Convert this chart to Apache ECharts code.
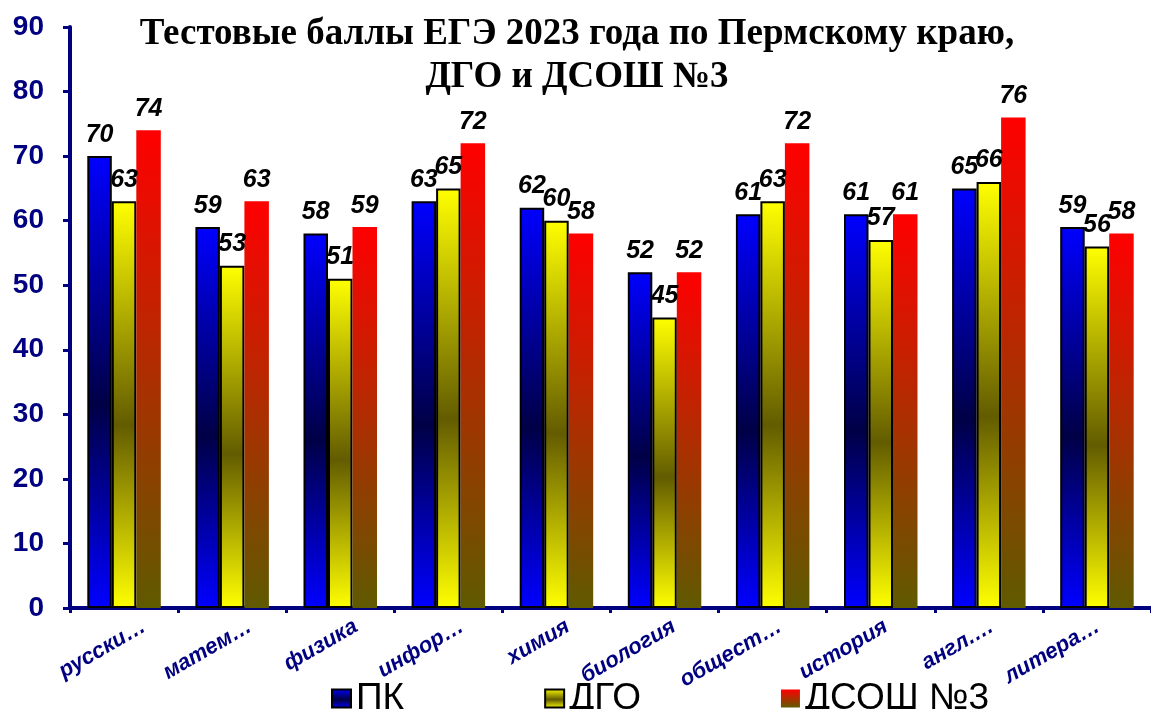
<!DOCTYPE html>
<html>
<head>
<meta charset="utf-8">
<script src="https://cdn.jsdelivr.net/npm/echarts@6/dist/echarts.min.js"></script>
<style>
  html, body { margin: 0; padding: 0; background: #fff; }
  #main { width: 1151px; height: 709px; }
</style>
</head>
<body>
<div id="main"></div>
<script>
// subjects as they are shown under the axis (cut by the chart itself)
var subjects = ['русски…', 'матем…', 'физика', 'инфор…', 'химия', 'биология', 'общест…', 'история', 'англ.…', 'литера…']
var seriesNames = ['ПК', 'ДГО', 'ДСОШ №3']
var pkScores = [70, 59, 58, 63, 62, 52, 61, 61, 65, 59]
var dgoScores = [63, 53, 51, 65, 60, 45, 63, 57, 66, 56]
var dsoshScores = [74, 63, 59, 72, 58, 52, 72, 61, 76, 58]
var yTicks = { min: 0, max: 90, step: 10 }

var navy = '#000080'
var sans = 'Arial, "Liberation Sans", sans-serif'

function grad(stops) {
  return new echarts.graphic.LinearGradient(0, 0, 0, 1, stops)
}

var blueFill = grad([
  { offset: 0, color: '#0000ff' },
  { offset: 0.55, color: '#000046' },
  { offset: 1, color: '#0000ff' }
])
var yellowFill = grad([
  { offset: 0, color: '#ffff00' },
  { offset: 0.55, color: '#635c00' },
  { offset: 1, color: '#ffff00' }
])
var redFill = grad([
  { offset: 0, color: '#ff0000' },
  { offset: 1, color: '#5f5a00' }
])

var valueLabel = {
  show: true,
  position: 'top',
  distance: 9,
  color: '#000',
  fontFamily: sans,
  fontSize: 25,
  fontWeight: 'bold',
  fontStyle: 'italic'
}

function barSeries(name, data, fill, border) {
  return {
    name: name,
    type: 'bar',
    data: data,
    barWidth: 24.5,
    barGap: '0%',
    itemStyle: {
      color: fill,
      borderColor: '#000',
      borderWidth: border ? 2 : 0
    },
    label: valueLabel
  }
}

var chart = echarts.init(document.getElementById('main'))

chart.setOption({
  backgroundColor: '#fff',
  animation: false,
  title: {
    text: 'Тестовые баллы ЕГЭ 2023 года по Пермскому краю,\nДГО и ДСОШ №3',
    left: 572,
    top: 8,
    textAlign: 'center',
    textStyle: {
      fontFamily: '"Times New Roman", "Liberation Serif", serif',
      fontSize: 37,
      fontWeight: 'bold',
      lineHeight: 43,
      color: '#000'
    }
  },
  legend: {
    data: seriesNames,
    left: 326,
    top: 675,
    icon: 'rect',
    itemWidth: 19,
    itemHeight: 18,
    itemGap: 140,
    textStyle: { fontFamily: sans, fontSize: 37, color: '#000' }
  },
  grid: [
    { left: 70, width: 1085, top: 27, bottom: 101, containLabel: false },
    // same plot shifted right, only used to place the slanted category labels
    { left: 91, width: 1085, top: 27, bottom: 101, containLabel: false }
  ],
  xAxis: [
    {
      type: 'category',
      gridIndex: 0,
      data: subjects,
      axisLine: { lineStyle: { color: navy, width: 4 } },
      axisTick: { show: true, length: 5, lineStyle: { color: navy, width: 3 } },
      axisLabel: { show: false }
    },
    {
      type: 'category',
      gridIndex: 1,
      data: subjects,
      axisLine: { show: false },
      axisTick: { show: false },
      axisLabel: {
        interval: 0,
        rotate: 30,
        margin: 17,
        color: navy,
        fontFamily: sans,
        fontSize: 22,
        fontWeight: 'bold',
        fontStyle: 'italic'
      }
    }
  ],
  yAxis: [
    {
      type: 'value',
      gridIndex: 0,
      min: yTicks.min,
      max: yTicks.max,
      interval: yTicks.step,
      axisLine: { show: true, lineStyle: { color: navy, width: 4 } },
      axisTick: { show: true, length: 7, lineStyle: { color: navy, width: 3 } },
      splitLine: { show: false },
      axisLabel: {
        margin: 26,
        color: navy,
        fontFamily: sans,
        fontSize: 28,
        fontWeight: 'bold'
      }
    },
    {
      type: 'value',
      gridIndex: 1,
      min: yTicks.min,
      max: yTicks.max,
      show: false
    }
  ],
  series: [
    barSeries(seriesNames[0], pkScores, blueFill, true),
    barSeries(seriesNames[1], dgoScores, yellowFill, true),
    barSeries(seriesNames[2], dsoshScores, redFill, false)
  ]
})
</script>
</body>
</html>
